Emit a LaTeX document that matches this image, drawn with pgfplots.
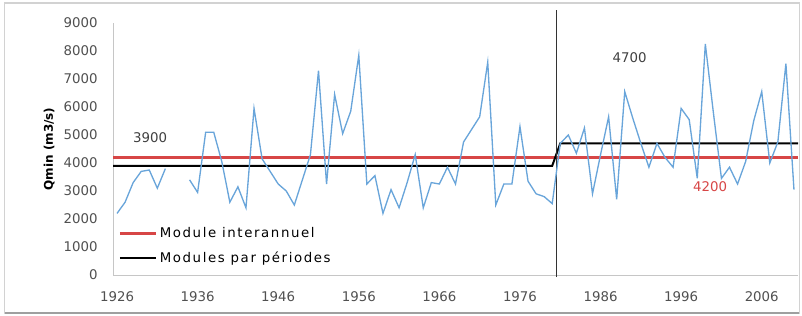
\documentclass[border=0pt]{standalone}
\usepackage{pgfplots}
\pgfplotsset{compat=1.18}
\usepackage{fontspec}
\setmainfont{DejaVu Sans}
\newfontfamily\legfont[LetterSpace=12]{DejaVu Sans}
\definecolor{qblue}{RGB}{105,165,218}
\definecolor{qred}{RGB}{215,70,70}
\definecolor{tickgray}{RGB}{80,80,80}
\begin{document}
\begin{tikzpicture}
\useasboundingbox (0,0) rectangle (601.5pt,236.25pt);
\draw[gray!35, line width=0.8pt] (3.5pt,1.5pt) rectangle (599.5pt,234pt);
\draw[gray!75, line width=1.4pt] (3.5pt,1.2pt) -- (599.5pt,1.2pt);
\begin{axis}[
  at={(84.75pt,30pt)}, anchor=south west,
  scale only axis, width=513.75pt, height=189pt,
  xmin=1925.5, xmax=2010.5, ymin=0, ymax=9000,
  xtick={1926,1936,1946,1956,1966,1976,1986,1996,2006},
  ytick={0,1000,2000,3000,4000,5000,6000,7000,8000,9000},
  x tick label style={/pgf/number format/1000 sep={}, yshift=-9pt},
  y tick label style={/pgf/number format/1000 sep={}, xshift=-8pt},
  /pgf/number format/assume math mode=true,
  tick label style={font=\fontsize{10}{12}\selectfont, text=tickgray},
  major tick length=0pt,
  axis lines*=left,
  axis line style={gray!45, line width=0.6pt},
  clip=false,
  unbounded coords=jump,
  ylabel={Qmin (m3/s)},
  ylabel style={at={(axis description cs:-0.093,0.5)}, anchor=center, font=\bfseries\fontsize{9}{11}\selectfont},
  legend cell align=left,
  legend style={at={(rel axis cs:0.008,0.20)}, anchor=north west, draw=none, fill=none,
    font=\legfont\fontsize{10}{12}\selectfont, row sep=5pt, inner sep=0pt},
  legend image code/.code={\draw[#1] (0pt,0pt) -- (27pt,0pt);},
]
\addplot[qred, line width=1.8pt] coordinates {(1925.5,4200) (2010.5,4200)};
\addlegendentry{Module interannuel}
\addplot[black, line width=1.5pt] coordinates {(1925.5,3900) (1980,3900) (1981,4700) (2010.5,4700)};
\addlegendentry{Modules par périodes}
\addplot[black!80, line width=0.8pt, forget plot] coordinates {(1980.5,-80) (1980.5,9460)};
\addplot[qblue, line width=1pt, forget plot] table {
x y
1926 2200
1927 2600
1928 3300
1929 3700
1930 3750
1931 3100
1932 3800
1933 nan
1934 nan
1935 3400
1936 2950
1937 5100
1938 5100
1939 4050
1940 2600
1941 3150
1942 2400
1943 5950
1944 4150
1945 3700
1946 3250
1947 3000
1948 2500
1949 3400
1950 4300
1951 7300
1952 3250
1953 6450
1954 5050
1955 5850
1956 7850
1957 3250
1958 3550
1959 2200
1960 3050
1961 2400
1962 3300
1963 4300
1964 2400
1965 3300
1966 3250
1967 3850
1968 3250
1969 4750
1970 5200
1971 5650
1972 7600
1973 2500
1974 3250
1975 3250
1976 5300
1977 3350
1978 2900
1979 2800
1980 2550
1981 4700
1982 5000
1983 4350
1984 5250
1985 2900
1986 4300
1987 5650
1988 2700
1989 6550
1990 5600
1991 4700
1992 3850
1993 4700
1994 4200
1995 3850
1996 5950
1997 5550
1998 3450
1999 8250
2000 5800
2001 3450
2002 3850
2003 3250
2004 4050
2005 5500
2006 6550
2007 4000
2008 4750
2009 7550
2010 3050
};
\node[text=black!75, font=\fontsize{10}{12}\selectfont] at (axis cs:1930.1,4890) {3900};
\node[text=black!75, font=\fontsize{10}{12}\selectfont] at (axis cs:1989.6,7750) {4700};
\node[text=qred, font=\fontsize{10}{12}\selectfont] at (axis cs:1999.6,3140) {4200};
\end{axis}
\end{tikzpicture}
\end{document}
